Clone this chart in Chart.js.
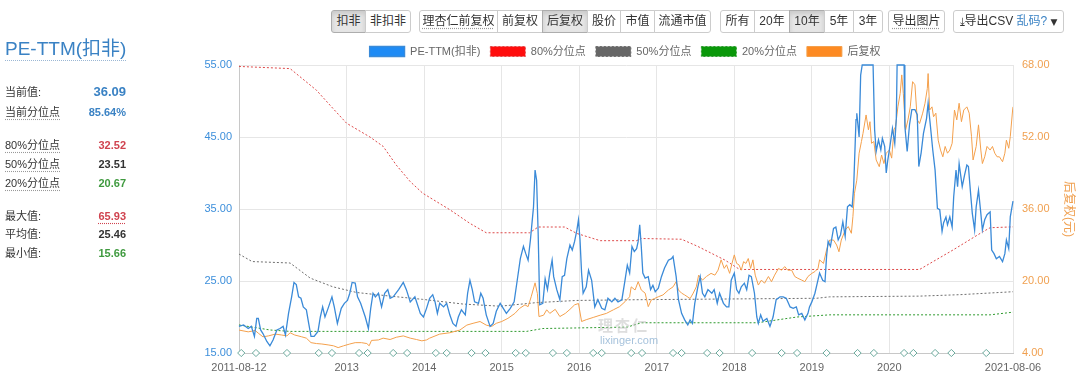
<!DOCTYPE html>
<html>
<head>
<meta charset="utf-8">
<script src="https://cdn.jsdelivr.net/npm/chart.js@4/dist/chart.umd.min.js"></script>
<style>
  html, body { margin:0; padding:0; background:#fff; }
  body { width:1080px; height:381px; position:relative; overflow:hidden;
         font-family:'Liberation Sans', Arial, 'Noto Sans CJK SC', sans-serif; color:#333; }
  #c { position:absolute; left:0; top:0; }
  .grp { position:absolute; top:10px; height:23px; display:flex; }
  .btn { box-sizing:border-box; height:23px; line-height:21px; font-size:12px; color:#333; text-align:center;
         border:1px solid #ccc; background:#fff; margin-left:-1px; white-space:nowrap; }
  .btn:first-child { margin-left:0; border-radius:3px 0 0 3px; }
  .btn:last-child { border-radius:0 3px 3px 0; }
  .btn:only-child { border-radius:3px; }
  .btn.on { background:#e6e6e6; border-color:#adadad; box-shadow: inset 0 3px 5px rgba(0,0,0,.125); }
  .dot { text-decoration: underline dotted #999; text-underline-offset:3px; }
  #title { position:absolute; left:5px; top:38px; height:22px; line-height:22px; font-size:19px; color:#3a82c4;
           border-bottom:1px dotted #9bb7d4; }
  .row { position:absolute; left:5px; width:121px; height:14px; line-height:14px; font-size:11px;
         display:flex; justify-content:space-between; color:#333; }
  .row b { font-weight:bold; }
  .blue { color:#3a82c4; } .red { color:#d0434f; } .green { color:#3f9a3f; } .dark { color:#333; }
  #wm1 { position:absolute; left:598px; top:314px; font-size:15px; font-weight:bold; color:#c4c4c4; opacity:.55; letter-spacing:2px; }
  #wm2 { position:absolute; left:600px; top:334px; font-size:11px; color:#8fb3d3; opacity:.8; }
</style>
</head>
<body>
<canvas id="c" width="1080" height="381"></canvas>

<div class="grp" style="left:331px">
  <div class="btn on" style="width:35px">扣非</div>
  <div class="btn" style="width:46px">非扣非</div>
</div>
<div class="grp" style="left:419px">
  <div class="btn" style="width:79px"><span class="dot">理杏仁前复权</span></div>
  <div class="btn" style="width:46px">前复权</div>
  <div class="btn on" style="width:46px">后复权</div>
  <div class="btn" style="width:34px">股价</div>
  <div class="btn" style="width:35px">市值</div>
  <div class="btn" style="width:57px">流通市值</div>
</div>
<div class="grp" style="left:720px">
  <div class="btn" style="width:35px">所有</div>
  <div class="btn" style="width:36px">20年</div>
  <div class="btn on" style="width:36px">10年</div>
  <div class="btn" style="width:30px">5年</div>
  <div class="btn" style="width:30px">3年</div>
</div>
<div class="grp" style="left:888px">
  <div class="btn" style="width:57px"><span class="dot">导出图片</span></div>
</div>
<div class="grp" style="left:953px">
  <div class="btn" style="width:111px"><span style="font-family:'DejaVu Sans';font-size:11px">⤓</span>导出CSV <span style="color:#3a82c4">乱码?</span> <span style="font-family:'DejaVu Sans';font-size:9px">▼</span></div>
</div>

<div id="title">PE-TTM(扣非)</div>
<div class="row" style="top:85px"><span>当前值:</span><b class="blue" style="font-size:13px">36.09</b></div>
<div class="row" style="top:105px"><span class="dot">当前分位点</span><b class="blue">85.64%</b></div>
<div class="row" style="top:138px"><span class="dot">80%分位点</span><b class="red">32.52</b></div>
<div class="row" style="top:157px"><span class="dot">50%分位点</span><b class="dark">23.51</b></div>
<div class="row" style="top:176px"><span class="dot">20%分位点</span><b class="green">20.67</b></div>
<div class="row" style="top:209px"><span>最大值:</span><b class="red" style="text-decoration:underline dotted #d0434f;text-underline-offset:3px">65.93</b></div>
<div class="row" style="top:227px"><span>平均值:</span><b class="dark">25.46</b></div>
<div class="row" style="top:246px"><span>最小值:</span><b class="green">15.66</b></div>

<div id="wm1">理杏仁</div>
<div id="wm2">lixinger.com</div>

<script>
// ---------------- data (decimal years) ----------------
const xTickValues = [2011.611, 2013, 2014, 2015, 2016, 2017, 2018, 2019, 2020, 2021.595];
const xTickLabels = ['2011-08-12', '2013', '2014', '2015', '2016', '2017', '2018', '2019', '2020', '2021-08-06'];
const leftTickValues = [15, 25, 35, 45, 55];
const rightTickValues = [4, 20, 36, 52, 68];

const peDates = [
 2011.61,2011.67,2011.73,2011.77,2011.81,2011.84,2011.86,2011.89,2011.92,2011.97,
 2012.01,2012.05,2012.10,2012.14,2012.18,2012.21,2012.25,2012.29,2012.32,2012.35,
 2012.38,2012.41,2012.44,2012.48,2012.51,2012.54,2012.58,2012.63,2012.66,2012.69,
 2012.72,2012.76,2012.81,2012.84,2012.88,2012.93,2012.97,2013.01,2013.04,2013.07,
 2013.11,2013.14,2013.18,2013.24,2013.28,2013.31,2013.34,2013.37,2013.41,2013.45,
 2013.49,2013.53,2013.56,2013.60,2013.67,2013.73,2013.77,2013.82,2013.88,2013.95,
 2013.99,2014.03,
 2014.07,2014.11,2014.14,2014.17,2014.20,2014.25,2014.29,2014.33,2014.37,2014.41,
 2014.44,2014.48,2014.53,2014.56,2014.59,2014.62,2014.65,2014.70,2014.73,2014.76,
 2014.80,2014.85,2014.89,2014.93,2014.98,2015.02,2015.06,2015.11,2015.16,2015.20,
 2015.24,2015.28,2015.31,2015.34,2015.37,2015.41,2015.43,2015.45,2015.47,2015.49,
 2015.53,2015.56,2015.59,2015.62,2015.65,2015.67,2015.71,2015.75,2015.78,2015.81,
 2015.84,2015.88,2015.91,2015.94,2015.97,2015.99,2016.01,2016.03,2016.05,2016.09,
 2016.12,2016.16,2016.20,2016.24,2016.29,2016.33,2016.37,2016.42,2016.46,2016.50,
 2016.55,2016.59,2016.62,2016.65,
 2016.68,2016.71,2016.74,2016.76,2016.78,2016.80,2016.82,2016.85,2016.89,2016.92,
 2016.95,2016.98,2017.02,2017.06,2017.10,2017.15,2017.19,2017.21,2017.23,2017.25,
 2017.28,2017.32,2017.36,2017.40,2017.43,2017.46,2017.49,2017.53,2017.56,2017.59,
 2017.62,2017.66,2017.71,2017.74,2017.78,2017.81,2017.86,2017.90,2017.93,2017.96,
 2018.00,2018.03,2018.06,2018.09,2018.13,2018.16,2018.19,2018.22,2018.26,2018.29,
 2018.31,2018.34,2018.37,2018.42,2018.46,2018.50,2018.54,2018.59,2018.63,2018.67,
 2018.72,2018.76,2018.80,2018.83,2018.87,2018.91,2018.95,2018.97,2019.00,2019.04,
 2019.07,2019.10,
 2019.14,2019.17,2019.19,2019.21,2019.24,2019.28,2019.31,2019.34,2019.37,2019.40,
 2019.43,2019.46,2019.49,2019.52,2019.54,2019.57,2019.58,2019.61,2019.63,2019.65,
 2019.79,2019.81,2019.83,2019.86,2019.89,2019.91,2019.94,2019.96,2019.98,2020.01,
 2020.04,2020.07,2020.09,2020.10,2020.19,2020.20,2020.23,2020.26,2020.29,2020.33,
 2020.36,2020.38,2020.41,2020.44,2020.48,2020.50,2020.53,2020.56,2020.59,2020.62,
 2020.65,2020.68,2020.70,2020.73,2020.75,2020.78,2020.81,2020.83,2020.86,2020.88,
 2020.90,2020.92,2020.94,2020.97,2021.00,2021.02,2021.05,2021.07,2021.10,2021.12,
 2021.15,2021.18,2021.20,2021.23,2021.26,2021.30,2021.32,2021.35,2021.38,2021.42,
 2021.46,2021.49,2021.51,2021.54,2021.56,2021.59,2021.595
];
const pe = [
 18.7,18.9,18.4,18.7,17.3,19.8,19.8,18.2,17.7,16.6,
 16.0,16.8,18.2,18.4,18.7,17.5,20.5,22.8,24.8,24.5,
 22.8,22.6,21.4,21.0,19.1,17.3,17.3,18.0,20.0,21.4,
 20.0,21.2,22.8,21.4,19.1,21.2,21.9,22.3,23.3,24.8,
 24.7,22.8,21.9,20.0,18.4,21.2,23.3,22.8,23.3,21.4,
 23.3,23.8,22.6,22.8,23.8,24.8,23.8,22.1,22.8,20.5,
 20.0,21.2,
 22.6,23.1,22.1,20.5,21.9,21.4,21.9,20.3,19.1,18.7,
 20.0,21.0,20.3,23.3,25.1,23.8,22.1,21.9,23.3,22.6,
 20.3,18.7,19.1,20.8,21.9,21.2,20.5,21.2,22.1,25.1,
 28.1,29.8,28.8,27.9,30.7,35.3,40.4,39.0,31.6,21.7,
 21.9,25.3,23.8,26.1,27.9,25.6,23.8,22.4,25.6,25.8,
 28.1,30.0,29.3,30.5,32.1,33.5,30.7,26.1,23.3,24.2,
 26.5,25.1,21.4,22.4,21.2,21.0,22.6,22.1,22.6,22.1,
 22.4,25.1,27.2,26.1,
 29.8,29.1,29.5,30.5,32.8,29.8,26.1,25.4,25.6,23.8,
 24.4,23.5,24.0,25.6,26.8,27.9,28.1,28.4,27.0,25.6,
 22.4,20.5,19.6,18.9,19.6,19.1,21.9,24.2,25.6,23.3,
 22.8,23.8,23.3,23.8,21.9,23.3,21.9,21.4,21.4,25.1,
 26.1,23.8,23.3,24.2,24.7,23.8,25.8,25.6,23.3,20.0,
 19.1,20.3,19.4,19.8,18.7,20.0,22.4,22.8,22.8,22.6,
 21.4,21.2,21.4,20.3,20.5,19.6,20.5,21.4,22.1,23.3,
 24.7,26.1,
 25.1,24.9,28.4,30.5,29.8,32.3,32.5,30.7,31.4,33.2,
 31.2,35.3,35.6,35.3,38.1,47.4,48.3,45.0,53.6,55.0,
 55.0,46.0,43.0,44.6,43.2,44.8,43.7,40.0,41.8,43.9,
 46.2,44.1,47.6,55.0,55.0,46.5,43.0,46.7,48.8,48.8,
 48.1,40.9,42.8,45.5,47.6,49.7,46.5,43.2,40.4,35.1,
 34.9,31.9,33.1,33.9,32.8,33.9,32.5,36.7,40.4,38.1,
 41.3,39.7,38.1,39.7,41.1,40.9,36.9,34.4,32.1,35.3,
 37.6,34.4,32.1,33.5,34.2,34.6,29.3,28.8,28.1,28.4,
 27.7,28.8,30.7,29.5,33.9,35.8,36.09
];

const priceDates = [
 2011.61,2011.73,2011.82,2011.86,2011.92,2011.99,2012.08,2012.16,2012.23,2012.27,
 2012.33,2012.42,2012.48,2012.54,2012.61,2012.68,2012.76,2012.83,2012.89,2012.96,
 2013.04,2013.11,2013.19,2013.26,2013.29,2013.32,2013.41,2013.47,2013.56,2013.64,
 2013.73,2013.82,2013.90,2013.97,2014.03,2014.07,
 2014.20,2014.33,2014.46,2014.55,2014.63,2014.72,2014.80,2014.87,2014.93,2015.00,
 2015.08,2015.17,2015.23,2015.30,2015.34,2015.38,2015.43,2015.46,2015.48,2015.54,
 2015.58,2015.62,2015.69,2015.75,2015.82,2015.88,2015.94,2015.99,2016.03,2016.09,
 2016.18,2016.27,2016.35,2016.44,2016.52,2016.59,2016.65,
 2016.67,2016.72,2016.76,2016.80,2016.85,2016.89,2016.93,2016.97,2017.02,2017.08,
 2017.15,2017.21,2017.25,2017.28,2017.32,2017.36,2017.43,2017.47,2017.51,2017.54,
 2017.59,2017.64,2017.70,2017.75,2017.79,2017.83,2017.87,2017.90,2017.94,2017.97,
 2018.00,2018.03,2018.06,2018.09,2018.12,2018.15,2018.18,2018.21,2018.24,2018.27,
 2018.31,2018.35,2018.39,2018.44,2018.48,2018.52,2018.57,2018.61,2018.65,2018.69,
 2018.74,2018.78,2018.82,2018.87,2018.91,2018.95,2019.00,2019.04,2019.08,
 2019.10,2019.15,2019.19,2019.23,2019.28,2019.32,2019.35,2019.38,2019.43,2019.47,
 2019.51,2019.53,2019.55,2019.58,2019.61,2019.64,2019.66,2019.70,2019.73,2019.75,
 2019.77,2019.80,2019.83,2019.87,2019.90,2019.93,2019.96,2020.00,2020.03,2020.06,
 2020.08,2020.11,2020.14,2020.16,2020.18,2020.21,2020.24,2020.27,2020.30,2020.33,
 2020.36,2020.39,2020.43,2020.46,2020.49,2020.50,2020.52,2020.55,2020.57,2020.60,
 2020.63,2020.66,2020.69,2020.72,2020.75,2020.78,2020.81,2020.84,2020.87,2020.90,
 2020.93,2020.96,2021.00,2021.03,2021.06,2021.08,2021.12,2021.15,2021.18,2021.20,
 2021.23,2021.26,2021.30,2021.33,2021.36,2021.39,2021.42,2021.46,2021.49,2021.51,
 2021.54,2021.56,2021.59,2021.595
];
const price = [
 9.1,8.7,9.0,8.4,7.6,7.8,8.2,8.0,7.8,8.5,
 8.0,7.6,7.3,6.3,6.1,6.0,5.8,5.6,5.2,5.6,
 6.0,6.3,6.3,6.1,5.6,6.8,6.9,7.3,7.0,7.5,
 7.8,7.3,7.0,6.7,6.9,7.3,
 8.2,8.5,9.1,10.2,10.6,11.0,10.2,9.9,10.6,11.0,
 11.7,12.8,13.9,14.7,14.3,16.5,19.6,17.2,12.1,12.4,
 13.6,12.8,13.7,12.1,12.8,13.7,14.7,15.0,11.0,11.4,
 11.9,12.4,12.8,13.6,14.3,15.4,16.5,
 18.7,18.0,19.85,18.0,17.3,14.3,15.8,16.1,16.5,16.9,
 18.0,18.7,19.85,18.0,17.3,16.9,16.1,17.3,18.7,21.3,
 20.2,21.0,21.7,21.3,22.4,24.7,22.8,23.6,21.7,23.9,
 25.8,23.9,23.6,22.4,24.3,23.9,25.0,22.8,24.7,21.3,
 19.1,20.2,19.5,21.0,19.85,21.3,22.8,22.4,23.2,22.4,
 22.4,21.0,20.6,20.2,19.85,21.0,21.7,22.1,22.8,
 24.7,23.9,26.9,29.1,29.1,28.0,26.5,29.1,31.3,32.1,
 30.6,34.3,39.5,42.4,48.4,51.0,52.8,56.9,53.6,55.4,
 50.6,51.0,46.9,45.4,48.0,46.1,48.4,49.1,47.3,53.6,
 54.3,58.7,61.7,65.8,61.7,53.6,55.8,58.7,64.3,63.6,
 55.8,55.0,57.3,59.5,62.8,66.1,58.0,58.7,56.5,57.3,
 51.3,49.1,47.6,49.9,48.4,49.1,50.6,58.0,55.8,59.5,
 55.4,58.0,58.7,57.3,52.1,46.9,49.9,54.7,49.1,46.1,
 47.6,49.9,49.1,49.9,48.4,47.6,47.6,46.5,48.4,51.3,
 49.5,52.1,58.0,58.7
];

const p80Dates = [2011.61,2012.27,2012.61,2012.82,2013.00,2013.30,2013.47,2013.64,2013.82,2013.98,2014.33,2014.59,2014.80,2015.36,2015.47,2015.81,2015.97,2016.27,2016.74,2016.80,2017.32,2017.53,2017.88,2018.07,2020.39,2020.82,2021.20,2021.30,2021.595];
const p80 = [54.8,54.5,51.5,49.0,46.9,45.0,43.7,41.1,38.8,37.2,34.9,33.0,31.7,31.7,32.5,32.5,31.6,30.6,30.6,30.9,30.8,29.8,27.9,26.6,26.6,29.3,31.8,32.4,32.52];

const p50Dates = [2011.61,2011.78,2012.27,2012.53,2012.82,2013.13,2013.56,2013.98,2014.50,2014.98,2015.45,2015.97,2016.74,2019.06,2019.23,2020.39,2020.91,2021.595];
const p50 = [28.75,27.7,27.5,25.4,24.2,23.4,22.9,22.45,21.8,21.5,22.0,22.3,22.4,22.6,22.8,22.9,23.1,23.51];

const p20Dates = [2011.61,2012.01,2012.27,2015.32,2015.53,2016.62,2016.80,2018.30,2018.81,2019.23,2021.30,2021.595];
const p20 = [18.9,18.2,18.0,18.0,18.4,18.6,19.2,19.2,20.0,20.3,20.3,20.67];

const markDates = [2011.64,2011.83,2012.23,2012.64,2012.81,2013.16,2013.27,2013.60,2013.78,2014.15,2014.29,2014.61,2014.79,2015.18,2015.31,2015.66,2015.84,2016.18,2016.29,2016.67,2016.81,2017.21,2017.32,2017.65,2017.81,2018.23,2018.61,2018.81,2019.19,2019.59,2019.80,2020.19,2020.31,2020.59,2020.80,2021.25];

// ---------------- chart ----------------
const FONT = "'Liberation Sans', Arial, 'Noto Sans CJK SC', sans-serif";
Chart.defaults.font.family = FONT;
Chart.defaults.font.size = 11;

const pts = (xs, ys) => xs.map((x, i) => ({ x, y: ys[i] }));
const leftMin = Math.min(...leftTickValues), leftMax = Math.max(...leftTickValues);
const rightMin = Math.min(...rightTickValues), rightMax = Math.max(...rightTickValues);

const layoutTweak = {
  id: 'layoutTweak',
  afterInit(chart) {
    const lg = chart.legend;
    if (lg) {
      const fit = lg.fit.bind(lg);
      lg.fit = function () { fit(); this.height -= 2; };
    }
  },
  afterLayout(chart) {
    const lg = chart.legend;
    if (lg) { lg.left -= 10; lg.right -= 10; }
  }
};

new Chart(document.getElementById('c'), {
  type: 'line',
  data: {
    datasets: [
      { label: 'PE-TTM(扣非)', data: pts(peDates, pe), yAxisID: 'y',
        borderColor: '#3a8ad8', backgroundColor: '#1e8bf5', borderWidth: 1.3, pointRadius: 0, order: 1, clip: false },
      { label: '80%分位点', data: pts(p80Dates, p80), yAxisID: 'y',
        borderColor: '#dd4a4a', backgroundColor: '#ff0d0d', borderWidth: 1, borderDash: [2, 2], pointRadius: 0, order: 3 },
      { label: '50%分位点', data: pts(p50Dates, p50), yAxisID: 'y',
        borderColor: '#6f6f6f', backgroundColor: '#666666', borderWidth: 1, borderDash: [2, 2], pointRadius: 0, order: 4 },
      { label: '20%分位点', data: pts(p20Dates, p20), yAxisID: 'y',
        borderColor: '#2f9a2f', backgroundColor: '#0a980a', borderWidth: 1, borderDash: [2, 2], pointRadius: 0, order: 5 },
      { label: '后复权', data: pts(priceDates, price), yAxisID: 'y1',
        borderColor: '#f4a04c', backgroundColor: '#fd8a22', borderWidth: 1, pointRadius: 0, order: 2 },
      { label: 'marks', data: markDates.map(x => ({ x, y: leftMin })), yAxisID: 'y', showLine: false,
        pointStyle: 'rectRot', pointRadius: 3.6, pointBorderWidth: 1, pointBorderColor: '#6aa99c',
        pointBackgroundColor: '#ffffff', order: 0, clip: false }
    ]
  },
  options: {
    responsive: false, animation: false, events: [], devicePixelRatio: 1,
    layout: { padding: { left: 190, top: 36, right: 0, bottom: 0 } },
    plugins: {
      tooltip: { enabled: false },
      legend: {
        display: true, position: 'top',
        labels: {
          boxWidth: 35, boxHeight: 10, padding: 10, color: '#666',
          font: { size: 11, family: FONT },
          filter: item => item.datasetIndex < 5,
          sort: (a, b) => a.datasetIndex - b.datasetIndex
        }
      }
    },
    scales: {
      x: {
        type: 'linear', min: xTickValues[0], max: xTickValues[xTickValues.length - 1],
        afterBuildTicks: s => { s.ticks = xTickValues.map(v => ({ value: v })); },
        ticks: { autoSkip: false, maxRotation: 0, color: '#666', padding: 8,
                 callback: (v, i) => xTickLabels[i] },
        grid: { color: '#e6e6e6', drawTicks: false },
        border: { color: '#c8c8c8' },
        afterFit: s => { s.height = 28; }
      },
      y: {
        position: 'left', min: leftMin, max: leftMax,
        afterBuildTicks: s => { s.ticks = leftTickValues.map(v => ({ value: v })); },
        ticks: { color: '#3d8fdb', padding: 7, callback: v => v.toFixed(2) },
        grid: { color: '#e6e6e6', drawTicks: false },
        border: { color: '#c8c8c8' },
        afterFit: s => { s.width = 49; }
      },
      y1: {
        position: 'right', min: rightMin, max: rightMax,
        afterBuildTicks: s => { s.ticks = rightTickValues.map(v => ({ value: v })); },
        ticks: { color: '#f0a050', padding: 9, callback: v => v.toFixed(2) },
        grid: { display: false, drawTicks: false },
        border: { display: false },
        title: { display: true, text: '后复权(元)', color: '#f0a050', font: { size: 12 } },
        afterFit: s => { s.width = 67; }
      }
    }
  },
  plugins: [layoutTweak]
});
</script>
</body>
</html>
